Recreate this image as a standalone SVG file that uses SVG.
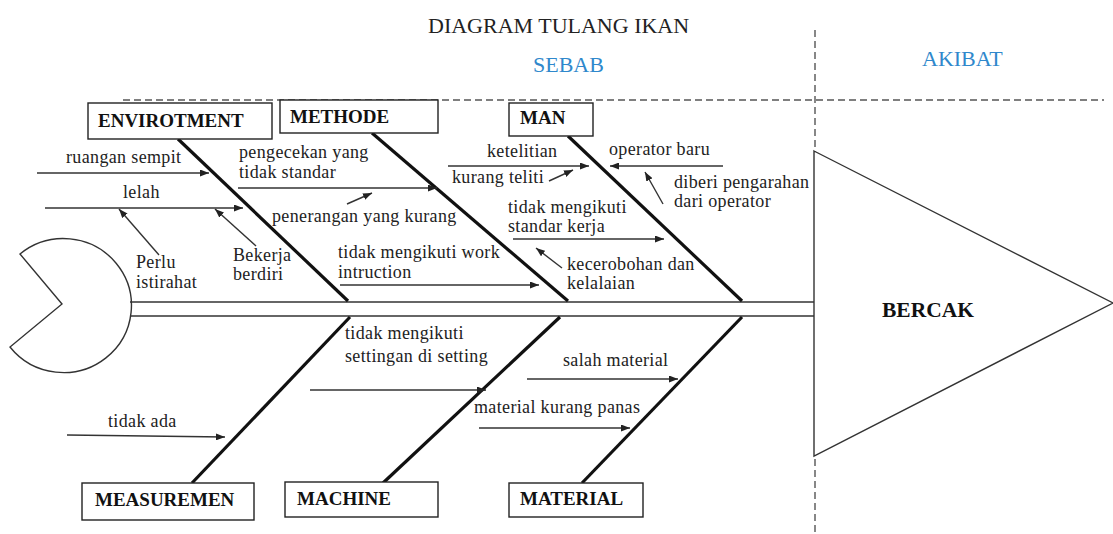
<svg xmlns="http://www.w3.org/2000/svg" width="1113" height="534" viewBox="0 0 1113 534">
  <defs>
    <marker id="ah" viewBox="0 0 9 7" refX="9" refY="3.5" markerWidth="9" markerHeight="7" markerUnits="userSpaceOnUse" orient="auto">
      <path d="M0,0 L9,3.5 L0,7 Z" fill="#222"/>
    </marker>
    <style>
      .t { font-family: "Liberation Serif", "Times New Roman", serif; font-size: 18px; letter-spacing: 0.35px; fill: #222; }
      .lbl { font-family: "Liberation Serif", "Times New Roman", serif; font-weight: bold; font-size: 19px; fill: #111; }
      .hd { font-family: "Liberation Serif", "Times New Roman", serif; font-size: 22px; }
      .box { fill: #fff; stroke: #222; stroke-width: 1.4; }
      .bone { stroke: #111; stroke-width: 3.2; fill: none; stroke-linecap: butt; }
      .arr { stroke: #333; stroke-width: 1.4; fill: none; marker-end: url(#ah); }
      .dash { stroke: #555; stroke-width: 1.4; stroke-dasharray: 7 4; fill: none; }
      .thin { stroke: #333; stroke-width: 1.4; fill: #fff; }
    </style>
  </defs>

  <rect width="1113" height="534" fill="#fff"/>

  <!-- headings -->
  <text class="hd" x="428" y="33" fill="#222">DIAGRAM TULANG IKAN</text>
  <text class="hd" x="533" y="72" fill="#2F88CC">SEBAB</text>
  <text class="hd" x="922" y="66" fill="#2F88CC">AKIBAT</text>

  <!-- cause / effect separators -->
  <line class="dash" x1="123" y1="100" x2="1104" y2="100"/>
  <line class="dash" x1="815" y1="30" x2="815" y2="534"/>

  <!-- fish tail -->
  <g id="tail">
    <path class="thin" d="M62,304 L20,254 A68,67 0 1 1 10,347 Z"/>
  </g>

  <!-- spine -->
  <g id="spine">
    <line x1="130" y1="302" x2="814" y2="302" stroke="#333" stroke-width="1.4"/>
    <line x1="130" y1="316" x2="814" y2="316" stroke="#333" stroke-width="1.4"/>
  </g>

  <!-- effect head -->
  <g id="head">
    <polygon class="thin" points="814,151 1113,303 814,456"/>
    <text x="882" y="317" font-family="Liberation Serif, Times New Roman, serif" font-weight="bold" font-size="21.5" fill="#111">BERCAK</text>
  </g>

  <!-- main bones -->
  <g id="bones">
    <line class="bone" x1="178" y1="139" x2="348" y2="301"/>
    <line class="bone" x1="372" y1="133" x2="568" y2="301"/>
    <line class="bone" x1="568" y1="136" x2="742" y2="301"/>
    <line class="bone" x1="350" y1="317" x2="192" y2="483"/>
    <line class="bone" x1="560" y1="317" x2="383" y2="483"/>
    <line class="bone" x1="742" y1="317" x2="582" y2="483"/>
  </g>

  <!-- category nodes -->
  <g id="envirotment">
    <rect class="box" x="88" y="103" width="184" height="36"/>
    <text class="lbl" x="98" y="127">ENVIROTMENT</text>
  </g>
  <g id="methode">
    <rect class="box" x="280" y="100" width="158" height="33"/>
    <text class="lbl" x="290" y="123">METHODE</text>
  </g>
  <g id="man">
    <rect class="box" x="509" y="103" width="84" height="33"/>
    <text class="lbl" x="520" y="124">MAN</text>
  </g>
  <g id="measuremen">
    <rect class="box" x="82" y="483" width="172" height="37"/>
    <text class="lbl" x="95" y="506">MEASUREMEN</text>
  </g>
  <g id="machine">
    <rect class="box" x="285" y="482" width="153" height="35"/>
    <text class="lbl" x="297" y="505">MACHINE</text>
  </g>
  <g id="material">
    <rect class="box" x="509" y="483" width="134" height="34"/>
    <text class="lbl" x="520" y="505">MATERIAL</text>
  </g>

  <!-- cause arrows -->
  <g id="connectors">
    <line class="arr" x1="37" y1="173" x2="209" y2="173"/>
    <line class="arr" x1="45" y1="208" x2="243" y2="208"/>
    <line class="arr" x1="159" y1="255" x2="119" y2="209"/>
    <line class="arr" x1="256" y1="246" x2="215" y2="209"/>
    <line class="arr" x1="238" y1="188" x2="437" y2="188"/>
    <line class="arr" x1="347" y1="204" x2="372" y2="193"/>
    <line class="arr" x1="340" y1="285" x2="539" y2="285"/>
    <line class="arr" x1="448" y1="166" x2="589" y2="166"/>
    <line class="arr" x1="549" y1="181" x2="573" y2="170"/>
    <line class="arr" x1="723" y1="166" x2="610" y2="166"/>
    <line class="arr" x1="663" y1="204" x2="645" y2="172"/>
    <line class="arr" x1="513" y1="239" x2="664" y2="239"/>
    <line class="arr" x1="562" y1="268" x2="536" y2="248"/>
    <line class="arr" x1="67" y1="435" x2="225" y2="437"/>
    <line class="arr" x1="310" y1="390" x2="486" y2="390"/>
    <line class="arr" x1="527" y1="379" x2="678" y2="379"/>
    <line class="arr" x1="479" y1="428" x2="630" y2="428"/>
  </g>

  <!-- cause labels -->
  <g id="labels">
    <text class="t" x="66" y="163">ruangan sempit</text>
    <text class="t" x="123" y="198">lelah</text>
    <text class="t" x="136" y="268">Perlu</text>
    <text class="t" x="136" y="288">istirahat</text>
    <text class="t" x="233" y="261">Bekerja</text>
    <text class="t" x="233" y="280">berdiri</text>
    <text class="t" x="239" y="158">pengecekan yang</text>
    <text class="t" x="239" y="178">tidak standar</text>
    <text class="t" x="272" y="222">penerangan yang kurang</text>
    <text class="t" x="338" y="258">tidak mengikuti work</text>
    <text class="t" x="338" y="278">intruction</text>
    <text class="t" x="487" y="157">ketelitian</text>
    <text class="t" x="452" y="183">kurang teliti</text>
    <text class="t" x="609" y="155">operator baru</text>
    <text class="t" x="674" y="188">diberi pengarahan</text>
    <text class="t" x="674" y="207">dari operator</text>
    <text class="t" x="508" y="213">tidak mengikuti</text>
    <text class="t" x="508" y="232">standar kerja</text>
    <text class="t" x="567" y="270">kecerobohan dan</text>
    <text class="t" x="567" y="289">kelalaian</text>
    <text class="t" x="108" y="427">tidak ada</text>
    <text class="t" x="345" y="339">tidak mengikuti</text>
    <text class="t" x="345" y="362">settingan di setting</text>
    <text class="t" x="563" y="366">salah material</text>
    <text class="t" x="474" y="413">material kurang panas</text>
  </g>
</svg>
